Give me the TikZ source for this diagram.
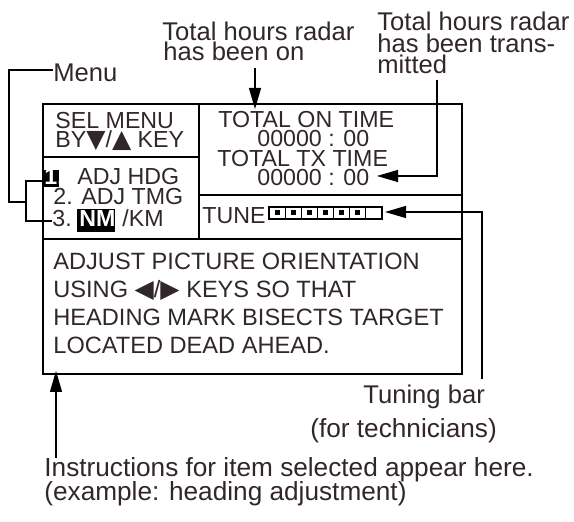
\documentclass[tikz,border=0pt]{standalone}
\usepackage{fontspec}
\setmainfont{Liberation Sans}
\newfontfamily\symfont{DejaVu Sans}
\usetikzlibrary{arrows.meta}

\definecolor{ink}{RGB}{48,38,44}

\tikzset{
  scr/.style={anchor=base west,inner sep=0pt,text=ink,font=\fontsize{11.6}{11.6}\selectfont},
  msg/.style={scr,font=\fontsize{11.8}{11.8}\selectfont},
  lbl/.style={anchor=base west,inner sep=0pt,text=ink,font=\fontsize{12.8}{12.8}\selectfont},
  biglbl/.style={lbl,font=\fontsize{13.1}{13.1}\selectfont},
  inv/.style={anchor=base west,inner sep=0pt,text=white,font=\fontsize{11.6}{11.6}\selectfont},
  frame/.style={black,line width=0.65pt},
  pointer/.style={black,line width=0.6pt,-{Triangle[length=10.5pt,width=6pt]}},
}
\newcommand{\keysym}[1]{{\symfont\fontsize{12.5}{12.5}\selectfont #1}}

\begin{document}
\begin{tikzpicture}[x=0.5pt,y=-0.5pt]
  \useasboundingbox (0,0) rectangle (574,522);
  % screen frame
  \draw[frame] (43,104) rectangle (462,374);
  \draw[frame] (199,104) -- (199,239);
  \draw[frame] (43,157) -- (199,157);
  \draw[frame] (199,195) -- (462,195);
  \draw[frame] (43,239) -- (462,239);

  % menu part
  \node[scr] (selmenu) at (55,129) {SEL MENU};
  \node[scr] (selkey) at (55,148) {BY\keysym{▼}/\keysym{▲} KEY};
  \fill[black] (43,170) rectangle (59,187);
  \node[inv] (itemone) at (44,185) {\textbf{1.}};
  \node[scr] (adjhdg) at (77,185) {ADJ HDG};
  \node[scr] (adjtmg) at (53,205) {2. ADJ TMG};
  \node[scr] (itemthree) at (52,227) {3.};
  \fill[black] (77,209) rectangle (115,232);
  \node[inv] (nm) at (79,227) {\textbf{NM}};
  \node[scr] (km) at (122,227) {/KM};

  % time part
  \node[scr] (ontime) at (218,128) {TOTAL ON TIME};
  \node[scr] (onval) at (257,147) {00000 : 00};
  \node[scr] (txtime) at (217,167) {TOTAL TX TIME};
  \node[scr] (txval) at (257,186) {00000 : 00};

  % tuning bar
  \node[scr] (tune) at (202,224) {TUNE};
  \foreach \i in {0,...,6}
    \draw[black,line width=0.55pt] (269+16.14*\i,207) rectangle ++(16.14,12);
  \foreach \i in {0,...,5}
    \fill[black] (274.5+16.14*\i,210.5) rectangle ++(5,5);
  \coordinate (tunebar) at (385,212);

  % instructions
  \node[msg] (instr1) at (53,270) {ADJUST PICTURE ORIENTATION};
  \node[msg] (instr2) at (53,298) {USING \keysym{◀}/\keysym{▶} KEYS SO THAT};
  \node[msg] (instr3) at (53,326) {HEADING MARK BISECTS TARGET};
  \node[msg] (instr4) at (53,354) {LOCATED DEAD AHEAD.};

  % labels
  \node[lbl] (onlbl1) at (162,41) {Total hours radar};
  \node[lbl] (onlbl2) at (163,61) {has been on};
  \node[lbl] (txlbl1) at (377,31) {Total hours radar};
  \node[lbl] (txlbl2) at (377,53) {has been trans-};
  \node[lbl] (txlbl3) at (377,74) {mitted};
  \node[lbl] (menulbl) at (53,82) {Menu};
  \node[lbl] (tunelbl1) at (363,404) {Tuning bar};
  \node[biglbl] (tunelbl2) at (310,438) {(for technicians)};
  \node[biglbl] (instrlbl1) at (44,477) {Instructions for item selected appear here.};
  \node[biglbl] (instrlbl2) at (44,501) {(example: heading adjustment)};

  % connectors
  \draw[pointer] (255,68) -- (255,109);
  \draw[pointer] (437,80) |- (377,176);
  \draw[pointer] (482,379) |- (tunebar);
  \draw[pointer] (56,458) -- (56,371);
  \draw[frame] (menulbl.west |- 0,70) -- (9,70) -- (9,202) -- (26,202);
  \draw[frame] (43,181) -| (26,221) -- (itemthree.west |- 0,221);
\end{tikzpicture}
\end{document}
